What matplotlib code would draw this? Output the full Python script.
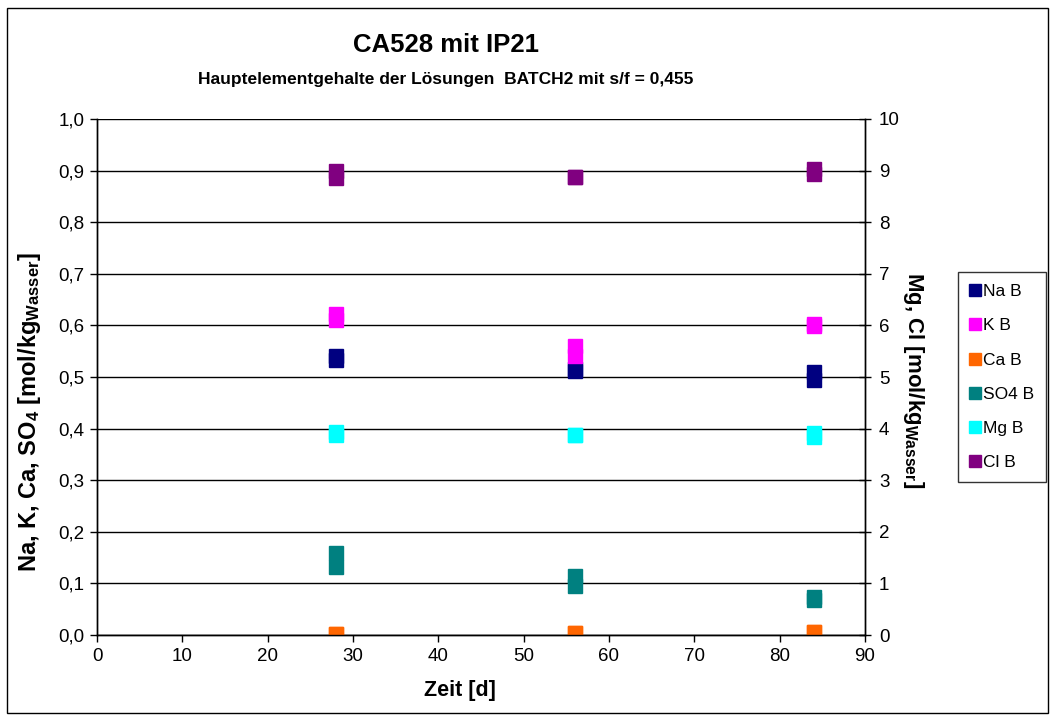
import matplotlib
matplotlib.use("Agg")
import matplotlib.pyplot as plt
from matplotlib.patches import Rectangle
from matplotlib.ticker import FuncFormatter, MultipleLocator

# Messwerte BATCH2, je zwei Parallelproben pro Zeitpunkt
days = [28, 28, 56, 56, 84, 84]
na = [0.541, 0.532, 0.515, 0.512, 0.509, 0.494]
k = [0.622, 0.610, 0.561, 0.541, 0.603, 0.598]
ca = [0.002, 0.002, 0.004, 0.003, 0.005, 0.005]
so4 = [0.158, 0.132, 0.115, 0.095, 0.074, 0.068]
mg = [3.93, 3.87, 3.87, 3.87, 3.91, 3.84]
cl = [9.00, 8.86, 8.88, 8.88, 9.03, 8.93]

left_series = [("Na B", na, "#000080"), ("K B", k, "#FF00FF"),
               ("Ca B", ca, "#FF6600"), ("SO4 B", so4, "#008080")]
right_series = [("Mg B", mg, "#00FFFF"), ("Cl B", cl, "#800080")]

plt.rcParams["font.family"] = ["Liberation Sans", "DejaVu Sans"]
plt.rcParams["mathtext.fontset"] = "custom"
plt.rcParams["mathtext.rm"] = "Liberation Sans:bold"
plt.rcParams["mathtext.it"] = "Liberation Sans:bold"
plt.rcParams["mathtext.bf"] = "Liberation Sans:bold"

fig = plt.figure(figsize=(10.51, 7.19), dpi=100)
ax = fig.add_axes([0.0923, 0.1168, 0.7307, 0.7177])
ax2 = ax.twinx()

ms = 9.6
handles = []
for name, vals, col in left_series:
    h, = ax.plot(days, vals, ls="none", marker="s", ms=ms, color=col,
                 mec=col, label=name, zorder=3)
    handles.append(h)
for name, vals, col in right_series:
    h, = ax2.plot(days, vals, ls="none", marker="s", ms=ms, color=col,
                  mec=col, label=name, zorder=3)
    handles.append(h)

ax.set_xlim(0, 90)
ax.set_ylim(0, 1.0)
ax2.set_ylim(0, 10)
ax.xaxis.set_major_locator(MultipleLocator(10))
ax.yaxis.set_major_locator(MultipleLocator(0.1))
ax2.yaxis.set_major_locator(MultipleLocator(1))
ax.yaxis.set_major_formatter(FuncFormatter(lambda v, p: f"{v:.1f}".replace(".", ",")))
ax2.yaxis.set_major_formatter(FuncFormatter(lambda v, p: f"{v:.0f}"))

ax.grid(True, axis="y", color="black", lw=1.0, zorder=0)
ax.set_axisbelow(True)
for a in (ax, ax2):
    a.spines["top"].set_visible(False)
    for s in ("left", "right", "bottom"):
        a.spines[s].set_color("black")
        a.spines[s].set_linewidth(1.0)

ax.tick_params(axis="x", direction="out", length=5, width=1, labelsize=13.5, pad=4)
ax.tick_params(axis="y", direction="out", length=5, width=1, labelsize=13.5, pad=4)
ax2.tick_params(axis="y", direction="inout", length=8, width=1, labelsize=13.5, pad=6)

# Achsentitel
fig.text(0.4377, 0.040, "Zeit [d]", ha="center", va="center",
         fontsize=15.5, fontweight="bold")
fig.text(0.0285, 0.427, r"Na, K, Ca, SO$_4$ [mol/kg$_{\mathrm{Wasser}}$]",
         rotation=90, ha="center", va="center", fontsize=17, fontweight="bold")
fig.text(0.869, 0.4715, r"Mg, Cl [mol/kg$_{\mathrm{Wasser}}$]",
         rotation=-90, ha="center", va="center", fontsize=16, fontweight="bold")

fig.text(0.4245, 0.928, "CA528 mit IP21", ha="center", va="baseline",
         fontsize=18.5, fontweight="bold")
fig.text(0.4245, 0.883, "Hauptelementgehalte der Lösungen  BATCH2 mit s/f = 0,455",
         ha="center", va="baseline", fontsize=12.5, fontweight="bold")

leg = fig.legend(handles=handles, loc="upper left", bbox_to_anchor=(0.9115, 0.622),
                 bbox_transform=fig.transFigure, fontsize=12.5, frameon=True,
                 fancybox=False, edgecolor="black", markerscale=0.85,
                 handlelength=0.55, handletextpad=0.2, labelspacing=1.10,
                 borderpad=0.7, borderaxespad=0)
leg.get_frame().set_linewidth(1.0)

fig.patches.append(Rectangle((0.007, 0.008), 0.990, 0.981, transform=fig.transFigure,
                             fill=False, edgecolor="black", lw=1.0))

fig.savefig("out.png", dpi=100, facecolor="white")
